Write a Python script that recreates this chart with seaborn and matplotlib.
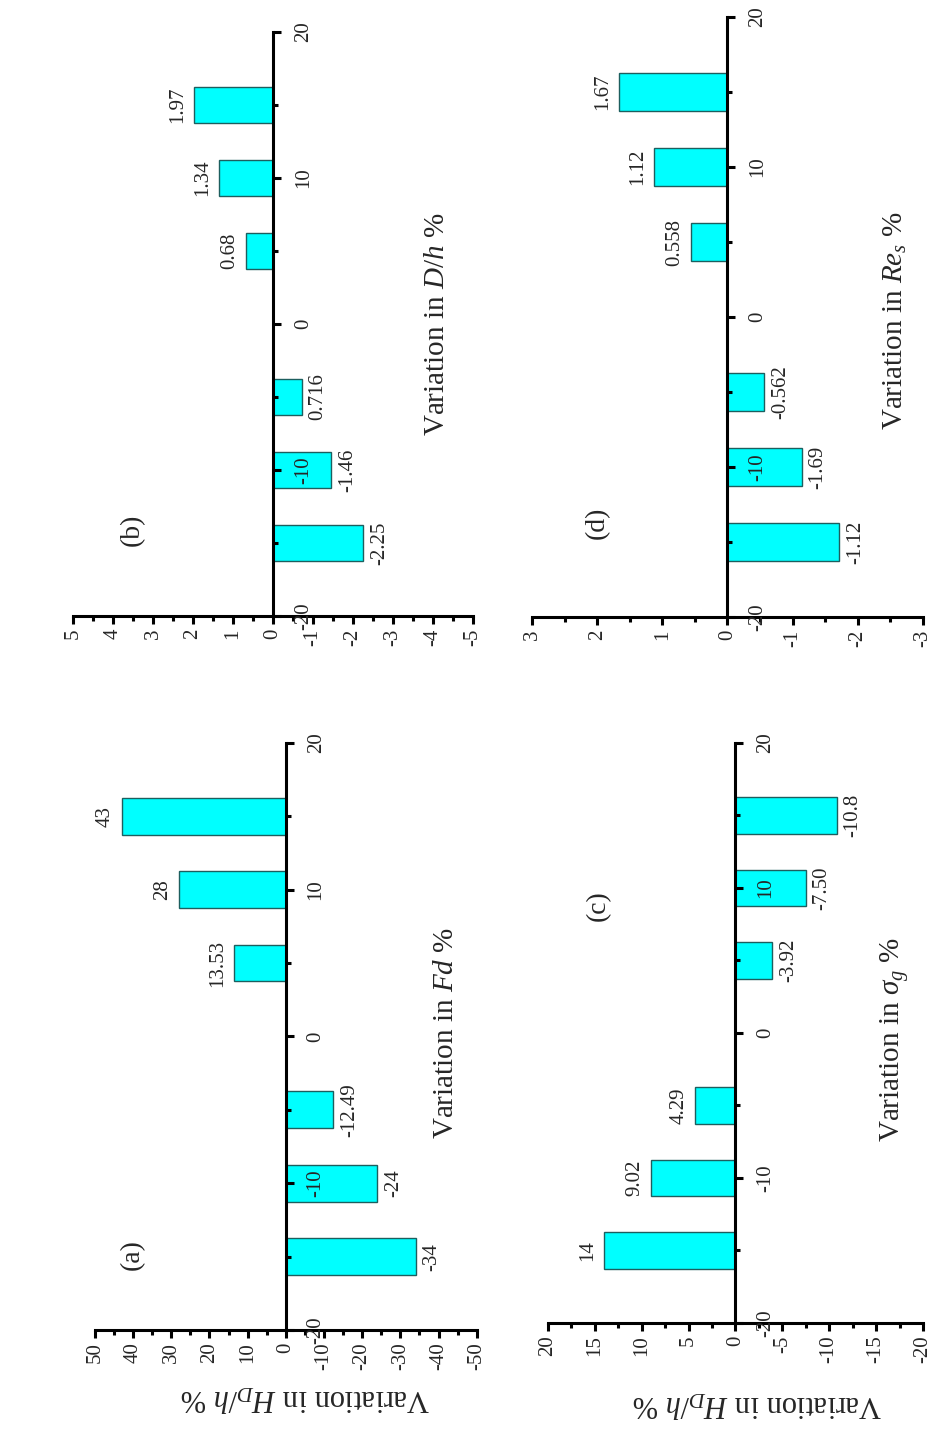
import matplotlib
matplotlib.use("Agg")
import matplotlib.pyplot as plt
from matplotlib.ticker import MultipleLocator
import pandas as pd
import seaborn as sns

# ---------------- data ----------------
positions = [-15, -10, -5, 5, 10, 15]
category_ticks = [-20, -10, 0, 10, 20]

fd_values = [-34, -24, -12.49, 13.53, 28, 43]
fd_labels = ["-34", "-24", "-12.49", "13.53", "28", "43"]

dh_values = [-2.25, -1.46, -0.716, 0.68, 1.34, 1.97]
dh_labels = ["-2.25", "-1.46", "0.716", "0.68", "1.34", "1.97"]

sg_values = [14, 9.02, 4.29, -3.92, -7.50, -10.8]
sg_labels = ["14", "9.02", "4.29", "-3.92", "-7.50", "-10.8"]

res_values = [-1.71, -1.14, -0.562, 0.558, 1.12, 1.67]
res_labels = ["-1.12", "-1.69", "-0.562", "0.558", "1.12", "1.67"]

# ---------------- style ----------------
sns.set_style("ticks")
plt.rcParams["font.family"] = ["Liberation Serif", "DejaVu Serif"]
plt.rcParams["mathtext.fontset"] = "custom"
plt.rcParams["mathtext.rm"] = "Liberation Serif"
plt.rcParams["mathtext.it"] = "Liberation Serif:italic"
plt.rcParams["mathtext.bf"] = "Liberation Serif:bold"
plt.rcParams["axes.unicode_minus"] = False
plt.rcParams["axes.axisbelow"] = False

BAR = "#00FFFF"
EDGE = "#1d5f5f"
LW = 2.2
TICK_FS = 15
VAL_FS = 15

fig = plt.figure(figsize=(9.31, 14.29), dpi=100)


def draw(rect, values, labels, lim, major, minor, letter, letter_pos,
         var_text, var_pos, ylab=None, ylab_pos=None):
    ax = fig.add_axes(rect)
    df = pd.DataFrame({"pos": positions, "val": values})
    sns.barplot(data=df, x="val", y="pos", orient="y", native_scale=True,
                width=0.5, color=BAR, saturation=1, edgecolor=EDGE,
                linewidth=1.0, errorbar=None, ax=ax)
    ax.set_axisbelow(False)
    for p in ax.patches:
        p.set_zorder(1)
    ax.xaxis.set_zorder(3)
    ax.yaxis.set_zorder(3)
    ax.set_xlim(lim, -lim)
    ax.set_ylim(-20, 20)
    ax.set_xlabel("")
    ax.set_ylabel("")

    ax.spines["top"].set_visible(False)
    ax.spines["left"].set_visible(False)
    ax.spines["right"].set_position(("data", 0))
    for s in ("right", "bottom"):
        ax.spines[s].set_linewidth(LW)
        ax.spines[s].set_color("black")
        ax.spines[s].set_zorder(3)
    ax.yaxis.set_ticks_position("right")

    ax.yaxis.set_major_locator(MultipleLocator(10))
    ax.yaxis.set_minor_locator(MultipleLocator(5))
    ax.xaxis.set_major_locator(MultipleLocator(major))
    ax.xaxis.set_minor_locator(MultipleLocator(minor))
    ax.tick_params(axis="both", which="major", direction="out", length=6,
                   width=LW, labelsize=TICK_FS, color="black")
    ax.tick_params(axis="both", which="minor", direction="out", length=3.5,
                   width=LW, color="black")
    ax.tick_params(axis="y", which="major", pad=9, labelrotation=90)
    ax.tick_params(axis="x", which="major", pad=3, labelrotation=90)
    for t in ax.get_yticklabels():
        t.set_va("center")

    for v, p, t in zip(values, positions, labels):
        sign = 1 if v > 0 else -1
        ax.annotate(t, xy=(v, p), xytext=(-sign * 5, 0),
                    textcoords="offset points", rotation=90,
                    ha="right" if v > 0 else "left", va="center",
                    fontsize=VAL_FS, zorder=4)

    ax.text(letter_pos[0], letter_pos[1], letter, transform=ax.transAxes,
            rotation=90, ha="center", va="center", fontsize=20)
    ax.text(var_pos[0], var_pos[1], var_text, transform=ax.transAxes,
            rotation=90, ha="center", va="center", fontsize=21)
    if ylab:
        ax.text(ylab_pos[0], ylab_pos[1], ylab, transform=ax.transAxes,
                rotation=180, ha="center", va="center", fontsize=22)
    return ax


ylabel = "Variation in $H_D/h$ %"

# (a)
draw([0.102, 0.0693, 0.410, 0.4108], fd_values, fd_labels, 50, 10, 5,
     "(a)", (0.097, 0.128), "Variation in $Fd$ %", (0.92, 0.506),
     ylabel, (0.55, -0.115))
# (b)
draw([0.0784, 0.5689, 0.4297, 0.4087], dh_values, dh_labels, 5, 1, 0.5,
     "(b)", (0.148, 0.147), "Variation in $D/h$ %", (0.91, 0.50))
# (c)
draw([0.5886, 0.0742, 0.4028, 0.4059], sg_values, sg_labels, 20, 5, 2.5,
     "(c)", (0.133, 0.72), "Variation in $\\sigma_g$ %", (0.925, 0.488),
     ylabel, (0.557, -0.14))
# (d)
draw([0.5714, 0.5682, 0.420, 0.4199], res_values, res_labels, 3, 1, 0.5,
     "(d)", (0.166, 0.157), "Variation in $Re_s$ %", (0.93, 0.495))

fig.savefig("out.png", dpi=100)
